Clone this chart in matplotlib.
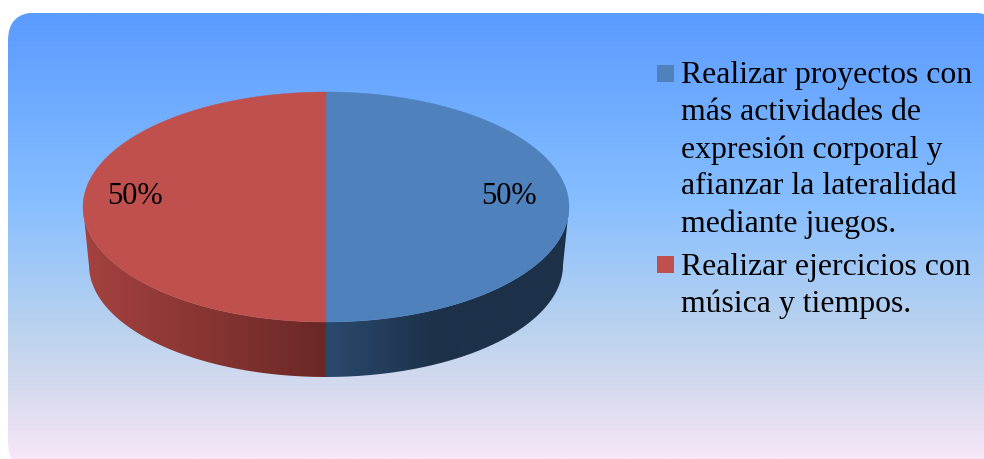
import numpy as np
import matplotlib
matplotlib.use("Agg")
import matplotlib.pyplot as plt
from matplotlib.colors import LinearSegmentedColormap
from matplotlib.patches import FancyBboxPatch, PathPatch, Rectangle
from matplotlib.path import Path

categories = ["Realizar proyectos con\nmás actividades de\nexpresión corporal y\nafianzar la lateralidad\nmediante juegos.",
              "Realizar ejercicios con\nmúsica y tiempos."]
values = [50, 50]
top_colors = ["#4F81BD", "#C0504D"]
side_stops = [[(0.0, "#2A4A6E"), (0.45, "#1D3149"), (1.0, "#1D3149")],
              [(0.0, "#A5423F"), (1.0, "#6A2826")]]

W, H = 984, 459
CX, CY, RX, RY, DEPTH = 326, 207, 243, 115, 58
RX_B, RY_B = 237, 112

plt.rcParams['font.family'] = ['Liberation Serif', 'DejaVu Serif']
fig = plt.figure(figsize=(W/100, H/100), dpi=100, facecolor="white")
ax = fig.add_axes([0, 0, 1, 1])
ax.set_xlim(0, W); ax.set_ylim(H, 0); ax.axis("off")

# rounded background with vertical gradient
bg = FancyBboxPatch((8, 12.5), 992, 457.5, boxstyle="round,pad=0,rounding_size=28",
                    facecolor="none", edgecolor="none", transform=ax.transData)
ax.add_patch(bg)
bg_cmap = LinearSegmentedColormap.from_list("bg", [
    (0.00, "#5A9BFF"), (0.42, "#86BEFF"), (0.72, "#BCD3EE"), (0.88, "#DDDDF0"), (1.00, "#F7E7F8")])
im = ax.imshow(np.linspace(0, 1, 256)[:, None], cmap=bg_cmap, aspect="auto",
               extent=(0, W, 459, 13), zorder=0)
im.set_clip_path(bg)
ax.set_xlim(0, W); ax.set_ylim(H, 0)


def ell(theta):
    return np.column_stack([CX + RX*np.sin(theta), CY - RY*np.cos(theta)])


def ell_bottom(theta):
    return np.column_stack([CX + RX_B*np.sin(theta), CY + DEPTH - RY_B*np.cos(theta)])


# angles clockwise from 12 o'clock, computed from the values
fracs = np.array(values, float) / sum(values)
edges = np.concatenate([[0], np.cumsum(fracs)]) * 2*np.pi

for i in range(len(values)):
    a0, a1 = edges[i], edges[i+1]
    # visible side: lower half of the ellipse
    lo, hi = max(a0, np.pi/2), min(a1, 3*np.pi/2)
    if hi > lo:
        t = np.linspace(lo, hi, 200)
        pts = np.vstack([ell(t), ell_bottom(t[::-1]), ell(t[:1])])
        side = PathPatch(Path(pts), facecolor="none", edgecolor="none", zorder=2)
        ax.add_patch(side)
        xa, xb = pts[:, 0].min(), pts[:, 0].max()
        cm = LinearSegmentedColormap.from_list(f"s{i}", side_stops[i])
        grad = np.linspace(0, 1, 256)[None, :]
        sim = ax.imshow(grad, cmap=cm, aspect="auto",
                        extent=(xa, xb, CY + RY + DEPTH, CY), zorder=2)
        sim.set_clip_path(side)

for i in range(len(values)):
    t = np.linspace(edges[i], edges[i+1], 300)
    pts = np.vstack([[CX, CY], ell(t), [CX, CY]])
    ax.add_patch(PathPatch(Path(pts), facecolor=top_colors[i], edgecolor=top_colors[i],
                           linewidth=0.3, zorder=3))
ax.set_xlim(0, W); ax.set_ylim(H, 0)

# data labels
label_xy = [(509, 196), (135, 196)]
for v, (x, y) in zip(values, label_xy):
    ax.text(x, y, f"{v}%", fontsize=22, ha="center", va="center", color="black", zorder=5)

# legend
legend_x, text_x = 657, 681
legend_y = [73, 264]
text_dy = [3, 3]
sw = 17
for cat, col, y, dy in zip(categories, top_colors, legend_y, text_dy):
    ax.add_patch(Rectangle((legend_x, y - 8.5), sw, sw, facecolor=col, edgecolor="none", zorder=4))
    for j, line in enumerate(cat.split("\n")):
        ax.text(text_x, y + j*37 + dy, line, fontsize=22.9, ha="left", va="center",
                color="black", zorder=5)

fig.savefig("out.png", dpi=100, facecolor="white")
